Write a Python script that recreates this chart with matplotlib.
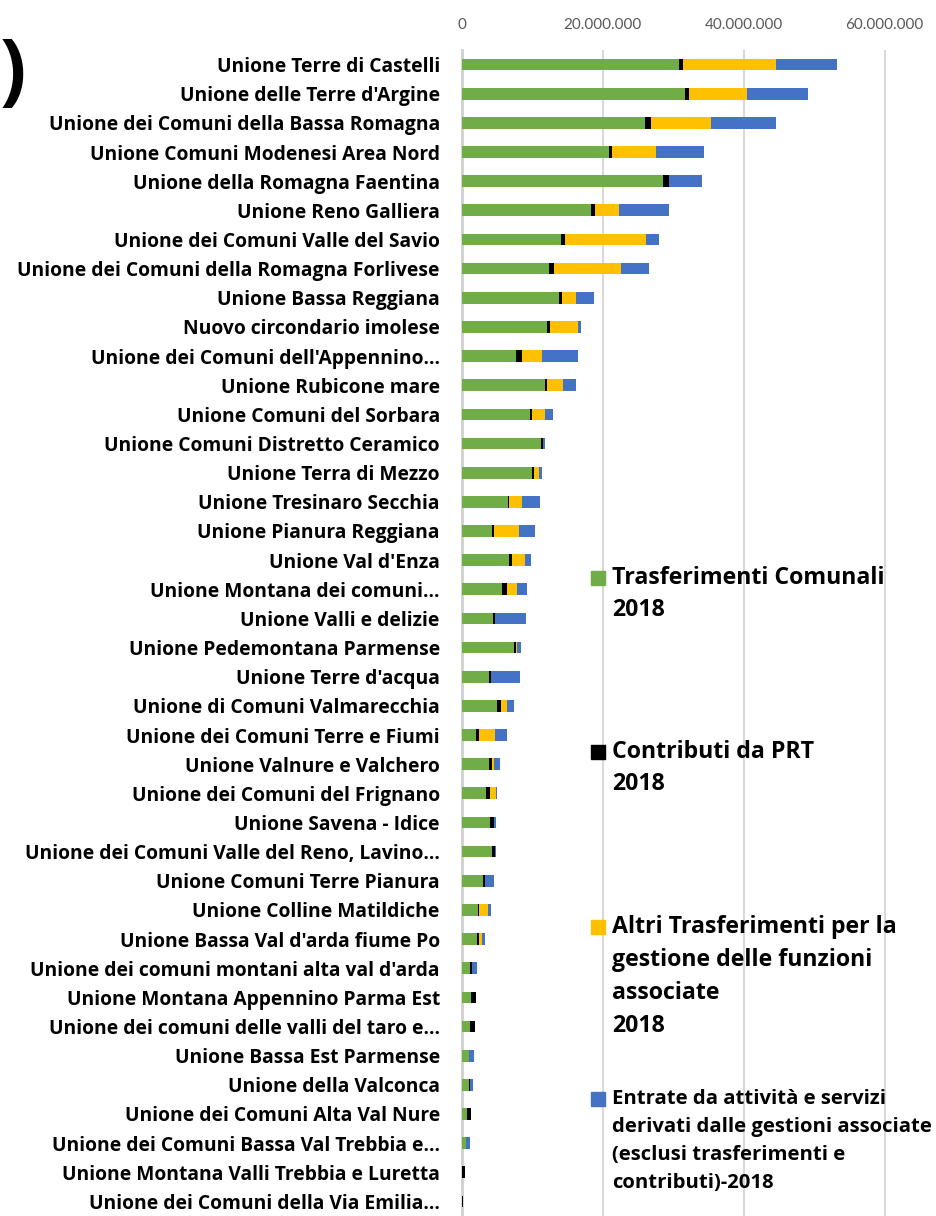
import numpy as np
import matplotlib.pyplot as plt
from matplotlib.patches import Rectangle
from matplotlib.ticker import FuncFormatter

# values in millions of euro
unioni = [
    "Unione Terre di Castelli", "Unione delle Terre d'Argine",
    "Unione dei Comuni della Bassa Romagna", "Unione Comuni Modenesi Area Nord",
    "Unione della Romagna Faentina", "Unione Reno Galliera",
    "Unione dei Comuni Valle del Savio", "Unione dei Comuni della Romagna Forlivese",
    "Unione Bassa Reggiana", "Nuovo circondario imolese",
    "Unione dei Comuni dell'Appennino\u2026", "Unione Rubicone mare",
    "Unione Comuni del Sorbara", "Unione Comuni Distretto Ceramico",
    "Unione Terra di Mezzo", "Unione Tresinaro Secchia",
    "Unione Pianura Reggiana", "Unione Val d'Enza",
    "Unione Montana dei comuni\u2026", "Unione Valli e delizie",
    "Unione Pedemontana Parmense", "Unione Terre d'acqua",
    "Unione di Comuni Valmarecchia", "Unione dei Comuni Terre e Fiumi",
    "Unione Valnure e Valchero", "Unione dei Comuni del Frignano",
    "Unione Savena - Idice", "Unione dei Comuni Valle del Reno, Lavino\u2026",
    "Unione Comuni Terre Pianura", "Unione Colline Matildiche",
    "Unione Bassa Val d'arda fiume Po", "Unione dei comuni montani alta val d'arda",
    "Unione Montana Appennino Parma Est", "Unione dei comuni delle valli del taro e\u2026",
    "Unione Bassa Est Parmense", "Unione della Valconca",
    "Unione dei Comuni Alta Val Nure", "Unione dei Comuni Bassa Val Trebbia e\u2026",
    "Unione Montana Valli Trebbia e Luretta", "Unione dei Comuni della Via Emilia\u2026",
]

trasf_comunali = [30.86, 31.66, 26.02, 20.94, 28.53, 18.34, 14.11, 12.36, 13.73, 12.03,
                  7.61, 11.84, 9.70, 11.17, 9.89, 6.48, 4.25, 6.71, 5.62, 4.39,
                  7.33, 3.87, 4.91, 2.02, 3.82, 3.35, 4.01, 4.29, 3.01, 2.21,
                  2.16, 1.07, 1.30, 1.11, 0.97, 0.97, 0.78, 0.50, 0.0, 0.0]
contributi_prt = [0.47, 0.57, 0.81, 0.33, 0.90, 0.57, 0.52, 0.66, 0.52, 0.47,
                  0.90, 0.24, 0.28, 0.38, 0.38, 0.14, 0.28, 0.33, 0.71, 0.24,
                  0.33, 0.19, 0.57, 0.33, 0.38, 0.57, 0.47, 0.38, 0.28, 0.14,
                  0.19, 0.28, 0.62, 0.71, 0.05, 0.19, 0.47, 0.05, 0.40, 0.15]
altri_trasf = [13.30, 8.30, 8.53, 6.27, 0.0, 3.37, 11.53, 9.58, 1.90, 3.99,
               2.80, 2.23, 1.76, 0.0, 0.66, 1.85, 3.51, 1.85, 1.47, 0.0,
               0.10, 0.0, 0.85, 2.28, 0.38, 0.95, 0.0, 0.0, 0.0, 1.33,
               0.52, 0.0, 0.0, 0.0, 0.0, 0.0, 0.0, 0.0, 0.0, 0.0]
entrate_servizi = [8.55, 8.54, 9.21, 6.83, 4.70, 7.16, 1.76, 3.89, 2.61, 0.42,
                   5.12, 1.85, 1.19, 0.19, 0.47, 2.61, 2.37, 0.86, 1.38, 4.45,
                   0.66, 4.12, 1.04, 1.71, 0.76, 0.10, 0.28, 0.14, 1.19, 0.43,
                   0.33, 0.71, 0.10, 0.09, 0.66, 0.43, 0.04, 0.62, 0.0, 0.0]

serie = [
    ("Trasferimenti Comunali\n2018", trasf_comunali, "#70AD47"),
    ("Contributi da PRT\n2018", contributi_prt, "#000000"),
    ("Altri Trasferimenti per la\ngestione delle funzioni\nassociate\n2018", altri_trasf, "#FFC000"),
    ("Entrate da attivit\u00e0 e servizi\nderivati dalle gestioni associate\n(esclusi trasferimenti e\ncontributi)-2018",
     entrate_servizi, "#4472C4"),
]

W, H = 937, 1216
fig = plt.figure(figsize=(W / 100, H / 100), dpi=100)

def fx(px):
    return px / W

def fy(py):
    return 1 - py / H

# axes placed in pixels: left 462, top 50, bottom at the lower edge
ax = fig.add_axes([fx(462), fy(1216), fx(W) - fx(462), fy(50) - fy(1216)])

y = np.arange(len(unioni))
left = np.zeros(len(unioni))
for name, vals, col in serie:
    v = np.array(vals) * 1e6
    ax.barh(y, v, left=left, height=0.4, color=col, label=name, zorder=3)
    left += v

ax.set_ylim(len(unioni) - 0.5, -0.5)
ax.set_xlim(0, 67.45e6)
ax.set_xticks([0, 20e6, 40e6, 60e6])
ax.xaxis.set_major_formatter(FuncFormatter(lambda v, p: f"{v:,.0f}".replace(",", ".")))
ax.xaxis.tick_top()
ax.tick_params(axis="x", length=0, pad=13, labelsize=11, labelcolor="#595959")
ax.grid(axis="x", color="#D9D9D9", linewidth=1.5, zorder=0)

ax.set_yticks(y)
ax.set_yticklabels(unioni, fontsize=13.9, fontweight="bold", fontfamily="Open Sans")
ax.tick_params(axis="y", length=0, pad=16)
for lab in ax.get_xticklabels():
    lab.set_fontfamily("Lato")

for s in ["top", "right", "bottom"]:
    ax.spines[s].set_visible(False)
ax.spines["left"].set_color("#D0D0D0")
ax.spines["left"].set_linewidth(2)
ax.spines["left"].set_zorder(2)

# legend drawn by hand, entries spaced as in the original
leg_pos = [(578, 32, 16.7), (752, 32, 16.7), (927, 33, 16.7), (1099, 28, 14.6)]
for (name, vals, col), (ly, step, fs) in zip(serie, leg_pos):
    fig.patches.append(Rectangle((fx(591), fy(ly + 7)), fx(14), fy(0) - fy(14),
                                 transform=fig.transFigure, color=col, figure=fig))
    for i, line in enumerate(name.split("\n")):
        fig.text(fx(612), fy(ly + i * step), line, fontsize=fs, fontweight="bold",
                 fontfamily="Open Sans", va="center", ha="left")

# panel mark left over at top left
fig.text(fx(0), fy(74), ")", fontsize=56, fontweight="bold", fontfamily="Open Sans",
         ha="left", va="center")

fig.savefig("out.png", dpi=100)
